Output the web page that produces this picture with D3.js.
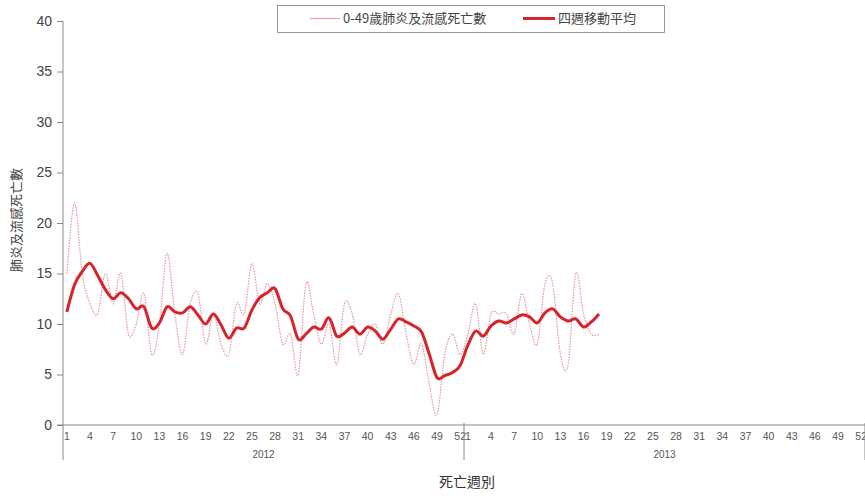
<!DOCTYPE html>
<html><head><meta charset="utf-8">
<script src="https://cdn.jsdelivr.net/npm/d3@7"></script>
<style>
html,body{margin:0;padding:0;background:#fff;}
svg{display:block;}
</style></head>
<body>
<svg id="c" width="865" height="496"></svg>
<script>
// ---- data ----
const years = ["2012", "2013"];
const weeksPerYear = 52;
const tickWeeks = [1,4,7,10,13,16,19,22,25,28,31,34,37,40,43,46,49,52];
const yTicks = [0,5,10,15,20,25,30,35,40];
const deaths2012 = [15,22,15,12,11,15,12,15,9,10,13,7,10,17,11,7,12,13,8,11,8,7,12,11,16,12,14,12,8,9,5,14,11,8,10,6,12,11,7,9,10,8,11,13,9,6,8,4,1,7,9,7];
const deaths2013 = [9,12,7,11,11,11,9,13,10,8,14,14,7,6,15,11,9,9];
const ma2012 = [11.2,13.9,15.2,16.0,14.8,13.4,12.5,13.1,12.5,11.5,11.7,9.6,10.1,11.7,11.2,11.1,11.7,10.9,10.0,11.0,9.9,8.6,9.6,9.6,11.4,12.6,13.1,13.5,11.5,10.8,8.5,9.0,9.7,9.5,10.6,8.8,9.1,9.7,9.0,9.7,9.3,8.5,9.5,10.5,10.2,9.8,9.2,7.0,4.7,4.9,5.2,5.9];
const ma2013 = [7.9,9.3,8.8,9.8,10.3,10.1,10.5,10.9,10.7,10.1,11.1,11.5,10.7,10.3,10.5,9.7,10.2,11.0];
const seriesNames = ["0-49歲肺炎及流感死亡數", "四週移動平均"];
const yTitle = "肺炎及流感死亡數";
const xTitle = "死亡週別";

// ---- build ----
const svg = d3.select("#c");
const latin = "'Liberation Sans', Arial, sans-serif";
const cjk = "'Noto Sans CJK TC', 'Noto Sans', sans-serif";

const cats = [];
years.forEach(y => { for (let w = 1; w <= weeksPerYear; w++) cats.push(y + "-" + w); });

const x = d3.scaleBand().domain(cats).range([63, 865]).padding(0);
const xc = k => x(k) + x.bandwidth() / 2;
const y = d3.scaleLinear().domain([0, 40]).range([425, 21]);

const deaths = deaths2012.map((v,i)=>({k:"2012-"+(i+1), v})).concat(deaths2013.map((v,i)=>({k:"2013-"+(i+1), v})));
const ma = ma2012.map((v,i)=>({k:"2012-"+(i+1), v})).concat(ma2013.map((v,i)=>({k:"2013-"+(i+1), v})));

// y axis
const yAxis = d3.axisLeft(y).tickValues(yTicks).tickSize(6).tickPadding(5);
const gy = svg.append("g").attr("transform","translate(63,0)").call(yAxis);
gy.select(".domain").remove();
gy.selectAll(".tick line").attr("stroke","#888");
gy.selectAll(".tick text").attr("font-family",latin).attr("font-size",14).attr("fill","#444");
svg.append("line").attr("x1",63).attr("x2",63).attr("y1",y(40)).attr("y2",460).attr("stroke","#888");

// x axis
svg.append("line").attr("x1",57).attr("x2",865).attr("y1",y(0)).attr("y2",y(0)).attr("stroke","#888");
const tickCats = [];
years.forEach(yr => tickWeeks.forEach(w => tickCats.push(yr + "-" + w)));
const xAxis = d3.axisBottom(x).tickValues(tickCats).tickSize(0).tickPadding(8)
  .tickFormat(k => k.split("-")[1]);
const gx = svg.append("g").attr("transform","translate(0,425)").call(xAxis);
gx.select(".domain").remove();
gx.selectAll(".tick text").attr("font-family",latin).attr("font-size",10.5).attr("fill","#555");

// year separators and labels
years.forEach((yr,i) => {
  const xEnd = x(yr + "-" + weeksPerYear) + x.bandwidth();
  const xStart = x(yr + "-1");
  svg.append("line").attr("x1",xEnd).attr("x2",xEnd).attr("y1",423).attr("y2",460).attr("stroke","#888");
  svg.append("text").attr("x",(xStart+xEnd)/2).attr("y",458).attr("text-anchor","middle")
    .attr("font-family",latin).attr("font-size",10).attr("fill","#555").text(yr);
});

// lines
const line = d3.line().x(d => xc(d.k)).y(d => y(d.v)).curve(d3.curveCardinal.tension(0));
const segs = years.map(yr => [deaths.filter(d=>d.k.startsWith(yr)), ma.filter(d=>d.k.startsWith(yr))]);
svg.append("path").datum(deaths).attr("d",line).attr("fill","none")
  .attr("stroke","#e596a0").attr("stroke-width",1.2).attr("stroke-dasharray","1.5,1.2");
svg.append("path").datum(ma).attr("d",line).attr("fill","none")
  .attr("stroke","#d8232a").attr("stroke-width",3).attr("stroke-linejoin","round");

// legend
svg.append("rect").attr("x",277.5).attr("y",5.5).attr("width",387).attr("height",27)
  .attr("fill","#fff").attr("stroke","#999");
svg.append("line").attr("x1",310).attr("x2",340).attr("y1",18.5).attr("y2",18.5)
  .attr("stroke","#eaa6ae").attr("stroke-width",1.3);
svg.append("text").attr("x",343).attr("y",23).attr("font-family",cjk).attr("font-size",13)
  .attr("fill","#444").text(seriesNames[0]);
svg.append("line").attr("x1",523).attr("x2",555).attr("y1",18.5).attr("y2",18.5)
  .attr("stroke","#d8232a").attr("stroke-width",3);
svg.append("text").attr("x",558).attr("y",23).attr("font-family",cjk).attr("font-size",13)
  .attr("fill","#444").text(seriesNames[1]);

// titles
svg.append("text").attr("transform","translate(21,220) rotate(-90)").attr("text-anchor","middle")
  .attr("font-family",cjk).attr("font-size",13).attr("fill","#444").text(yTitle);
svg.append("text").attr("x",467).attr("y",487).attr("text-anchor","middle")
  .attr("font-family",cjk).attr("font-size",14).attr("fill","#333").text(xTitle);
</script>
</body></html>
